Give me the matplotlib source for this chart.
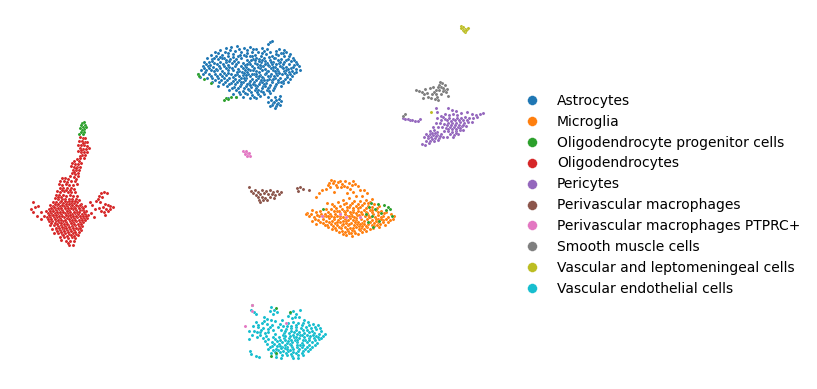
import matplotlib
matplotlib.use("Agg")
import matplotlib.pyplot as plt
import numpy as np

# values, as (umap1, umap2) with umap2 growing downwards
astrocytes = [
(270,42),(268,44),(272,41),(231,47),(237,46),(244,48),(226,48),(250,47),(256,49),(262,48),(220,50),(215,52),
(225,52),(230,50),(235,51),(241,52),(247,50),(252,52),(258,52),(264,51),(270,52),(276,51),(281,53),(286,52),
(211,55),(216,56),(222,55),(228,56),(233,54),(238,56),(244,55),(250,56),(255,55),(261,56),(266,54),(272,56),
(278,55),(284,56),(289,56),(293,58),(207,58),(212,59),(218,59),(224,58),(230,59),(236,59),(241,58),(247,60),
(253,59),(259,59),(264,58),(270,60),(275,58),(281,59),(286,60),(291,61),(296,62),(204,62),(209,62),(214,63),
(220,62),(226,62),(232,63),(238,62),(243,63),(249,62),(255,63),(261,62),(267,63),(273,62),(279,63),(284,62),
(289,64),(294,65),(299,66),(203,66),(208,66),(213,67),(219,66),(224,66),(229,67),(235,66),(241,66),(246,67),
(252,66),(258,67),(263,66),(269,66),(275,67),(280,66),(286,67),(291,68),(296,69),(300,70),(201,70),(206,70),
(211,70),(217,70),(222,71),(228,70),(233,70),(239,71),(245,70),(250,70),(256,71),(262,70),(267,71),(273,70),
(278,71),(284,71),(289,72),(294,73),(198,74),(203,74),(209,74),(215,74),(220,74),(226,75),(231,74),(237,74),
(243,75),(248,74),(254,74),(260,75),(265,74),(271,74),(277,75),(282,74),(287,75),(292,76),(200,77),(207,78),
(212,78),(218,78),(224,78),(229,78),(235,79),(241,78),(246,78),(252,79),(258,78),(263,78),(269,79),(275,78),
(280,78),(285,79),(290,79),(212,82),(219,82),(225,82),(231,83),(237,82),(243,82),(249,83),(254,82),(260,82),
(266,83),(272,82),(278,82),(283,83),(288,82),(218,86),(227,86),(234,87),(240,86),(246,86),(251,87),(257,86),
(263,86),(269,87),(275,86),(281,86),(229,90),(236,90),(243,91),(249,90),(255,90),(261,91),(267,90),(273,90),
(233,94),(240,94),(247,94),(252,95),(258,94),(264,94),(270,93),(228,98),(236,97),(243,97),(250,98),(256,98),
(268,97),(275,97),(280,96),(271,100),(276,100),(281,101),(268,102),(273,103),(278,103),(272,105),(276,106),
(280,105),(275,108),(222,58),(246,56),(234,61),(257,64),(282,67),(247,72),(270,76),(255,85),(241,84),(262,82),
(265,69),(252,74),(276,73),(228,65),(216,69),(245,80),(235,75),(259,72),(268,65),(272,80),(250,64),(243,68),
(262,60),(280,62),(292,71),(224,73),(210,65),(258,90),(264,84),(248,89),(253,70),(238,69),(274,58),(286,70),
(218,53),(228,53),(239,49),(253,49),(267,49),(279,49),(284,50),(214,58),(220,57),(226,60),(233,57),(240,55),
(247,53),(256,58),(262,53),(269,57),(276,54),(283,53),(290,54),(206,64),(212,61),(217,64),(223,64),(229,61),
(236,64),(245,65),(251,60),(259,61),(265,61),(272,64),(278,60),(283,64),(288,59),(294,60),(204,68),(209,68),
(214,71),(220,68),(226,68),(232,68),(237,72),(242,72),(248,69),(254,68),(260,68),(266,73),(271,68),(277,69),
(283,68),(288,69),(293,67),(297,64),(205,72),(211,76),(217,76),(222,76),(228,73),(233,77),(239,76),(244,73),
(250,76),(256,76),(262,77),(268,76),(274,76),(279,73),(285,73),(290,74),(296,72),(215,80),(221,80),(227,80),
(233,81),(239,80),(244,78),(250,81),(256,80),(261,80),(267,80),(273,79),(278,80),(283,81),(287,77),(223,84),
(229,84),(235,84),(241,82),(247,84),(253,84),(259,84),(265,86),(270,85),(276,84),(281,82),(232,88),(238,88),
(244,88),(250,85),(256,88),(262,88),(268,88),(274,88),(239,92),(245,93),(251,92),(257,92),(263,92),(269,91),
(254,97),(260,96),(274,102),(277,104),(270,106),(279,99),(247,64),(255,60),(261,66),(265,64),(268,71),(273,67),
(276,64),(256,74),(260,65),(252,56),(259,76),(246,75),(275,71),(271,62),(264,80),
]
microglia = [
(331,180),(329,183),(334,181),(328,185),(338,182),(342,184),(345,181),(349,183),(352,185),(355,184),(358,186),
(341,187),(347,187),(337,187),(360,190),(350,189),(322,190),(326,189),(319,193),(364,190),(316,197),(353,192),
(347,193),(334,192),(356,196),(362,196),(367,193),(349,198),(343,200),(338,202),(332,204),(327,203),(354,201),
(360,201),(366,200),(372,199),(344,204),(350,205),(356,206),(362,205),(368,206),(374,204),(379,206),(312,210),
(307,213),(316,212),(320,211),(326,209),(331,209),(336,208),(342,209),(347,210),(353,210),(358,211),(364,210),
(370,210),(376,210),(381,211),(386,212),(391,214),(309,216),(314,217),(319,216),(325,214),(330,214),(335,214),
(340,213),(345,214),(351,214),(357,215),(362,214),(368,215),(373,214),(378,215),(383,216),(388,217),(394,216),
(306,214),(312,221),(318,220),(323,219),(329,218),(334,219),(340,218),(345,219),(350,218),(356,220),(361,219),
(367,219),(372,220),(378,219),(383,220),(388,222),(393,219),(316,224),(323,223),(329,222),(335,223),(340,222),
(346,223),(351,223),(357,224),(362,223),(368,224),(374,223),(380,224),(385,225),(328,227),(333,226),(339,227),
(345,227),(350,228),(356,227),(361,228),(367,227),(373,228),(379,227),(336,230),(342,231),(348,231),(354,231),
(360,230),(366,231),(343,234),(349,233),(358,234),(332,229),(340,216),(347,216),(353,212),(360,217),(364,221),
(370,217),(375,217),(338,220),(342,225),(348,225),(355,222),(359,226),(331,216),(326,216),(337,211),(349,207),
(366,212),(381,217),(384,213),(377,208),(370,202),(364,203),(358,208),(352,216),(346,221),(327,225),(321,214),
(344,211),(390,220),(374,226),(362,226),(352,230),(365,216),(334,217),(356,218),(372,212),(378,222),
(333,183),(336,185),(340,181),(344,186),(353,181),(330,187),(346,203),(352,203),(358,204),(340,206),(334,206),
(347,207),(353,208),(360,207),(366,208),(372,207),(328,212),(334,211),(339,211),(345,212),(350,212),(356,213),
(361,212),(367,213),(372,210),(378,212),(311,214),(317,215),(323,216),(328,216),(337,216),(343,217),(349,216),
(354,217),(359,215),(369,217),(376,219),(381,219),(386,219),(315,219),(320,222),(326,221),(332,221),(337,222),
(343,221),(348,220),(353,220),(358,222),(364,224),(370,222),(376,221),(383,222),(325,225),(331,224),(337,225),
(343,224),(349,224),(354,225),(360,224),(366,226),(372,225),(377,225),(335,228),(341,228),(347,229),(353,228),
(359,229),(364,229),(370,229),(339,232),(345,232),(351,233),(355,233),(362,232),(346,235),(352,236),(368,203),
]
opc = [
(82,123),(84,122),(85,125),(81,125),(83,127),(86,127),(80,128),(84,129),(82,130),(81,132),(84,132),(79,134),
(83,134),(226,98),(228,99),(224,100),(231,97),(236,97),(198,74),(199,76),(204,79),(211,83),(276,308),(371,203),
(378,204),(384,205),(388,207),(369,207),(375,209),(386,210),(390,209),(366,214),(372,216),(381,213),(392,216),
(368,222),(379,221),(373,227),(323,209),(252,305),(290,312),(276,353),(271,356),
]
oligodendrocytes = [
(80,137),(83,138),(85,138),(79,141),(82,141),(85,142),(87,142),(78,145),(81,145),(84,145),(87,146),(80,148),
(83,149),(86,149),(89,148),(78,151),(81,152),(84,152),(87,152),(82,155),(85,155),(80,156),(84,158),(77,159),
(74,161),(79,161),(72,163),(75,164),(78,164),(81,163),(71,166),(74,167),(77,167),(80,167),(73,170),(76,170),
(79,170),(72,173),(75,174),(70,176),(74,177),(78,176),(65,178),(62,178),(68,179),(60,181),(64,181),(67,182),
(71,181),(75,181),(59,184),(62,185),(66,184),(69,185),(73,185),(77,184),(60,188),(63,188),(67,188),(71,188),
(74,189),(57,191),(60,192),(64,191),(68,192),(71,192),(75,192),(56,195),(59,195),(63,195),(66,196),(70,195),
(73,196),(77,196),(55,198),(58,199),(62,199),(65,199),(69,199),(72,199),(76,199),(79,200),(53,202),(56,202),
(60,202),(63,203),(67,202),(70,203),(74,203),(77,202),(81,204),(50,205),(53,206),(57,205),(60,206),(64,206),
(67,206),(71,206),(74,207),(78,206),(82,207),(85,206),(49,209),(52,209),(56,210),(59,209),(62,210),(66,209),
(69,210),(73,209),(76,210),(80,210),(83,210),(86,211),(48,213),(51,213),(55,213),(58,213),(61,214),(65,213),
(68,213),(72,214),(75,213),(78,214),(82,214),(85,214),(88,215),(47,217),(50,217),(54,217),(57,217),(60,218),
(64,217),(67,218),(71,217),(74,218),(77,217),(81,218),(84,218),(87,218),(49,221),(52,221),(56,221),(59,222),
(63,221),(66,222),(70,221),(73,222),(76,221),(80,222),(83,222),(50,225),(54,225),(58,226),(61,225),(65,226),
(68,225),(72,226),(75,225),(79,226),(82,226),(52,229),(56,229),(60,230),(63,229),(67,230),(70,229),(74,230),
(78,229),(81,230),(54,233),(58,233),(62,234),(65,233),(69,234),(73,233),(76,234),(60,237),(64,237),(68,238),
(72,237),(75,238),(66,241),(70,241),(74,241),(69,245),(73,245),(71,203),(61,197),(55,208),(68,216),(77,212),
(59,220),(64,228),(72,224),(52,215),(46,211),(33,202),(35,207),(31,209),(38,206),(33,212),(41,212),(37,216),
(44,216),(41,219),(90,202),(92,205),(95,209),(91,213),(94,217),(99,196),(101,193),(104,192),(107,193),(98,199),
(102,197),(100,202),(105,204),(108,205),(103,207),(110,206),(113,207),(99,208),(106,209),(110,209),(104,212),
(108,211),(105,215),(101,211),(96,201),
(62,190),(66,190),(70,190),(58,197),(61,201),(65,201),(69,201),(72,201),(75,201),(55,204),(58,204),(62,205),
(66,204),(69,204),(72,205),(76,205),(80,205),(51,208),(54,207),(58,208),(61,208),(65,208),(68,208),(71,208),
(75,208),(79,208),(83,208),(50,211),(53,211),(57,212),(60,212),(63,212),(67,211),(70,212),(74,212),(79,212),
(84,212),(49,215),(53,215),(56,215),(59,216),(62,216),(66,215),(70,215),(73,216),(76,216),(80,216),(83,216),
(86,216),(48,219),(51,219),(55,219),(58,220),(61,220),(65,220),(69,219),(72,220),(75,220),(79,220),(82,220),
(85,220),(51,223),(55,223),(57,224),(61,223),(64,224),(67,224),(71,223),(74,224),(78,224),(81,224),(56,228),
(59,228),(62,227),(66,228),(69,227),(73,228),(76,228),(80,228),(57,231),(61,232),(64,231),(68,232),(71,231),
(75,232),(79,232),(63,235),(67,236),(71,235),(74,236),(78,235),(61,240),(68,243),(76,168),(74,172),(78,173),
(76,179),(80,158),(83,143),(81,150),
]
pericytes = [
(403,118),(405,119),(408,119),(410,120),(412,120),(415,121),(418,121),(420,119),(437,112),(448,108),(452,110),
(456,111),(441,116),(445,114),(449,115),(453,114),(457,115),(461,113),(467,112),(472,114),(476,115),(480,114),
(483,113),(437,118),(441,120),(445,119),(449,118),(453,119),(457,118),(461,118),(465,117),(469,118),(473,118),
(477,117),(436,123),(440,123),(444,124),(448,123),(452,123),(456,123),(460,122),(464,123),(468,122),(472,122),
(438,127),(442,127),(446,128),(450,127),(454,127),(458,127),(462,126),(466,126),(444,131),(448,131),(452,132),
(456,131),(460,130),(463,130),(450,134),(454,135),(458,134),(430,131),(434,130),(437,132),(426,134),(430,134),
(433,135),(437,135),(441,134),(424,137),(428,138),(431,137),(435,138),(439,138),(443,137),(426,141),(430,141),
(434,141),(438,140),(422,144),(425,145),(429,143),(447,137),(433,127),(436,108),
(443,117),(447,120),(451,121),(455,120),(459,120),(463,120),(467,120),(447,125),(451,125),(455,125),(459,125),
(463,125),(448,129),(452,129),(456,129),(460,128),(432,133),(435,133),(428,136),(432,139),(436,136),(440,136),
(456,133),(453,137),
]
perivascular = [
(251,191),(255,190),(258,192),(262,190),(266,191),(270,190),(273,192),(277,191),(281,192),(253,193),(256,195),
(260,194),(264,193),(268,194),(272,194),(275,195),(279,194),(258,197),(262,197),(265,198),(270,197),(274,198),
(259,200),(263,200),(267,200),(260,202),(297,188),(300,187),(303,189),(298,191),(309,190),(249,187),
]
perivascular_ptprc = [
(243,151),(245,152),(247,153),(245,154),(248,155),(250,156),(246,151),(247,156),(249,153),(360,217),(346,217),
(340,214),(322,216),(252,305),(245,326),(252,311),(286,323),
]
smooth_muscle = [
(416,90),(419,91),(422,92),(425,89),(424,94),(427,93),(430,88),(433,87),(436,90),(439,85),(442,83),(445,85),
(447,89),(441,87),(444,90),(439,90),(436,94),(441,94),(432,94),(428,97),(431,98),(435,99),(438,100),(423,98),
(443,91),(446,92),(448,96),(437,97),(403,116),(405,114),(440,82),(443,88),(438,87),(434,92),
]
vascular_lepto = [
(461,26),(463,27),(465,29),(463,30),(465,32),(467,29),(464,31),(468,28),(461,28),(431,112),(466,30),
]
endothelial = [
(251,310),(254,312),(256,314),(271,307),(274,310),(270,311),(277,312),(273,314),(290,313),(293,311),(296,314),
(300,310),(288,316),(292,318),(295,317),(299,317),(304,320),(264,317),(267,319),(271,320),(275,321),(280,324),
(282,320),(256,322),(262,323),(267,324),(272,325),(278,327),(283,326),(288,323),(293,322),(298,323),(303,323),
(308,322),(313,324),(318,325),(253,326),(258,327),(263,328),(268,329),(273,330),(286,329),(291,328),(296,327),
(301,328),(306,327),(311,328),(316,329),(321,331),(325,334),(249,331),(254,331),(260,332),(265,333),(284,333),
(289,333),(294,332),(299,332),(304,333),(309,332),(314,333),(319,334),(323,336),(252,335),(257,337),(263,338),
(268,339),(273,337),(279,337),(284,338),(289,338),(294,337),(299,338),(304,337),(309,338),(314,338),(319,339),
(249,339),(272,342),(277,341),(282,342),(287,343),(292,342),(297,342),(302,343),(307,342),(312,342),(317,343),
(267,344),(272,346),(277,346),(282,347),(287,347),(292,347),(297,347),(302,347),(307,347),(312,347),(268,349),
(273,350),(278,350),(283,351),(288,351),(293,352),(298,351),(303,351),(308,351),(271,353),(276,354),(282,355),
(287,355),(292,356),(298,355),(303,355),(276,357),(281,358),(293,358),(298,358),(250,351),(251,354),(256,356),
(259,357),(290,344),(295,340),(300,335),(305,340),(275,334),(281,330),(287,326),(310,336),(316,336),(300,345),
(290,350),(285,345),(279,344),(296,330),(302,325),(307,330),(312,331),(293,335),(288,341),(283,335),(265,341),
(285,331),(291,331),(297,334),(303,330),(309,325),(315,327),(320,328),(291,326),(296,325),(285,336),(290,336),
(296,337),(302,335),(307,335),(313,335),(318,337),(280,340),(285,340),(291,340),(297,340),(303,340),(309,340),
(315,340),(321,338),(274,344),(280,346),(285,348),(291,345),(297,345),(303,345),(309,345),(315,345),(270,347),
(276,349),(281,348),(287,349),(293,349),(299,349),(305,349),(310,349),(275,352),(280,352),(286,353),(291,354),
(296,353),(302,353),(264,321),(258,325),(261,330),(268,332),(270,327),(257,332),(260,335),(266,336),(275,339),
]

labels = ["Astrocytes", "Microglia", "Oligodendrocyte progenitor cells", "Oligodendrocytes",
          "Pericytes", "Perivascular macrophages", "Perivascular macrophages PTPRC+",
          "Smooth muscle cells", "Vascular and leptomeningeal cells", "Vascular endothelial cells"]
colors = ["#1f77b4", "#ff7f0e", "#2ca02c", "#d62728", "#9467bd",
          "#8c564b", "#e377c2", "#7f7f7f", "#bcbd22", "#17becf"]
clusters = [astrocytes, microglia, opc, oligodendrocytes, pericytes,
            perivascular, perivascular_ptprc, smooth_muscle, vascular_lepto, endothelial]

fig = plt.figure(figsize=(8.17, 3.89), dpi=100)
ax = fig.add_axes([0, 0, 1, 1])

# endothelial goes first so the stray cells stay visible on top of it
order = [0, 9, 1, 3, 4, 5, 2, 6, 7, 8]
for i in order:
    pts = np.array(clusters[i])
    ax.scatter(pts[:, 0], pts[:, 1], s=5, color=colors[i], linewidths=0.1, edgecolors="white")

ax.set_xlim(0, 817)
ax.set_ylim(389, 0)
ax.axis("off")

handles = [plt.Line2D([], [], ls="", marker="o", ms=7, mfc=c, mec="white", mew=0.2) for c in colors]
ax.legend(handles, labels, frameon=False, fontsize=10, loc="center left",
          bbox_to_anchor=(0.6275, 0.499), borderaxespad=0)

fig.savefig("out.png", dpi=100)
